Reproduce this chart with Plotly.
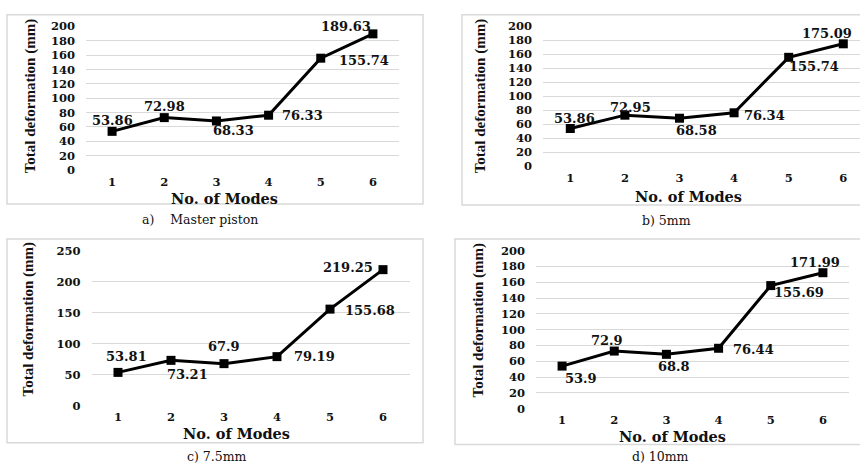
import plotly.graph_objects as go

W, H = 860, 472

modes = [1, 2, 3, 4, 5, 6]
master_piston = [53.86, 72.98, 68.33, 76.33, 155.74, 189.63]
piston_5mm = [53.86, 72.95, 68.58, 76.34, 155.74, 175.09]
piston_7_5mm = [53.81, 73.21, 67.9, 79.19, 155.68, 219.25]
piston_10mm = [53.9, 72.9, 68.8, 76.44, 155.69, 171.99]

y_ticks_200 = [0, 20, 40, 60, 80, 100, 120, 140, 160, 180, 200]
y_ticks_250 = [0, 50, 100, 150, 200, 250]

captions = ["a)\u00a0\u00a0\u00a0\u00a0Master piston", "b) 5mm", "c) 7.5mm", "d) 10mm"]
x_title = "No. of Modes"
y_title = "Total deformation (mm)"


def px(x):
    return x / W


def py(y):
    return 1 - y / H


# panel geometry (pixels)
panels = [
    dict(data=master_piston, xd=(86, 399), xr=[0.5, 6.5], yd=(20, 168), yr=[0, 200], ticks=y_ticks_200,
         frame=(7, 8, 423, 203), ytitle=(30, 92), xtitle=(224, 197), cap=(200, 219),
         offs=[(0, 11), (0, 11), (17, -10), (34, 0), (43, -2), (-27, 7)]),
    dict(data=piston_5mm, xd=(543, 860), xr=[0.5, 6.306], yd=(20, 164), yr=[0, 200], ticks=y_ticks_200,
         frame=(462, 8, 862, 204), ytitle=(480, 92), xtitle=(688, 195), cap=(666, 220),
         offs=[(4, 10), (6, 8), (17, -12), (30, -3), (25, -9), (-16, 10)]),
    dict(data=piston_7_5mm, xd=(91.5, 409.5), xr=[0.5, 6.5], yd=(251, 411), yr=[0, 250], ticks=y_ticks_250,
         frame=(7, 239, 423, 449), ytitle=(28, 322), xtitle=(236, 440), cap=(217, 463),
         offs=[(8, 16), (16, -14), (0, 17), (37, 0), (40, -1), (-35, 2)]),
    dict(data=piston_10mm, xd=(536, 849), xr=[0.5, 6.5], yd=(251, 414), yr=[0, 200], ticks=y_ticks_200,
         frame=(455, 239, 862, 451), ytitle=(478, 323), xtitle=(672, 443), cap=(660, 463),
         offs=[(19, -12), (-7, 11), (8, -12), (35, -1), (28, -7), (-8, 10)]),
]

fig = go.Figure()
annotations = []
shapes = []
serif_b = dict(family="DejaVu Serif", weight="bold", color="#111111")

for i, p in enumerate(panels):
    n = "" if i == 0 else str(i + 1)
    xa, ya = "x" + n, "y" + n
    fig.add_trace(go.Scatter(
        x=modes, y=p["data"], xaxis=xa, yaxis=ya, mode="lines+markers",
        line=dict(color="black", width=3),
        marker=dict(symbol="square", size=9, color="black"),
        showlegend=False, cliponaxis=False,
    ))
    fig.layout["xaxis" + n] = dict(
        domain=[px(p["xd"][0]), min(1, px(p["xd"][1]))], range=p["xr"], anchor=ya,
        tickvals=modes, ticktext=[str(m) for m in modes], showgrid=False, zeroline=False,
        showline=False, ticks="", ticklabelstandoff=3,
        tickfont=dict(size=11.5, **serif_b), fixedrange=True,
    )
    fig.layout["yaxis" + n] = dict(
        domain=[py(p["yd"][1]), py(p["yd"][0])], range=p["yr"], anchor=xa,
        tickvals=p["ticks"], showgrid=True, gridcolor="#d9d9d9", gridwidth=1,
        zeroline=False, showline=False, ticks="", ticklabelstandoff=10,
        tickfont=dict(size=11.5, **serif_b), fixedrange=True,
    )
    # frame
    fx0, fy0, fx1, fy1 = p["frame"]
    shapes.append(dict(type="rect", xref="paper", yref="paper",
                       x0=px(fx0), x1=px(fx1), y0=py(fy1), y1=py(fy0),
                       line=dict(color="#d9d9d9", width=1.5), layer="below"))
    # data labels
    for xv, yv, (dx, dy) in zip(modes, p["data"], p["offs"]):
        annotations.append(dict(x=xv, y=yv, xref=xa, yref=ya, text=str(yv), showarrow=False,
                                xanchor="center", yanchor="middle",
                                xshift=dx, yshift=dy, font=dict(size=13, **serif_b)))
    # axis titles
    annotations.append(dict(x=px(p["ytitle"][0]), y=py(p["ytitle"][1]), xref="paper", yref="paper",
                            text=y_title, textangle=-90, showarrow=False,
                            xanchor="center", yanchor="middle",
                            font=dict(family="Liberation Serif", weight="bold", size=15, color="#111111")))
    annotations.append(dict(x=px(p["xtitle"][0]), y=py(p["xtitle"][1]), xref="paper", yref="paper",
                            text=x_title, showarrow=False, xanchor="center", yanchor="middle",
                            font=dict(size=14.5, **serif_b)))
    annotations.append(dict(x=px(p["cap"][0]), y=py(p["cap"][1]), xref="paper", yref="paper",
                            text=captions[i], showarrow=False, xanchor="center", yanchor="middle",
                            font=dict(family="DejaVu Serif", size=12.5, color="#111111")))

fig.update_layout(
    width=W, height=H, margin=dict(l=0, r=0, t=0, b=0),
    paper_bgcolor="white", plot_bgcolor="white",
    annotations=annotations, shapes=shapes,
)

fig.write_html("out.html", config={"displayModeBar": False, "staticPlot": True},
               post_script="document.body.style.margin='0';document.body.style.overflow='hidden';")
